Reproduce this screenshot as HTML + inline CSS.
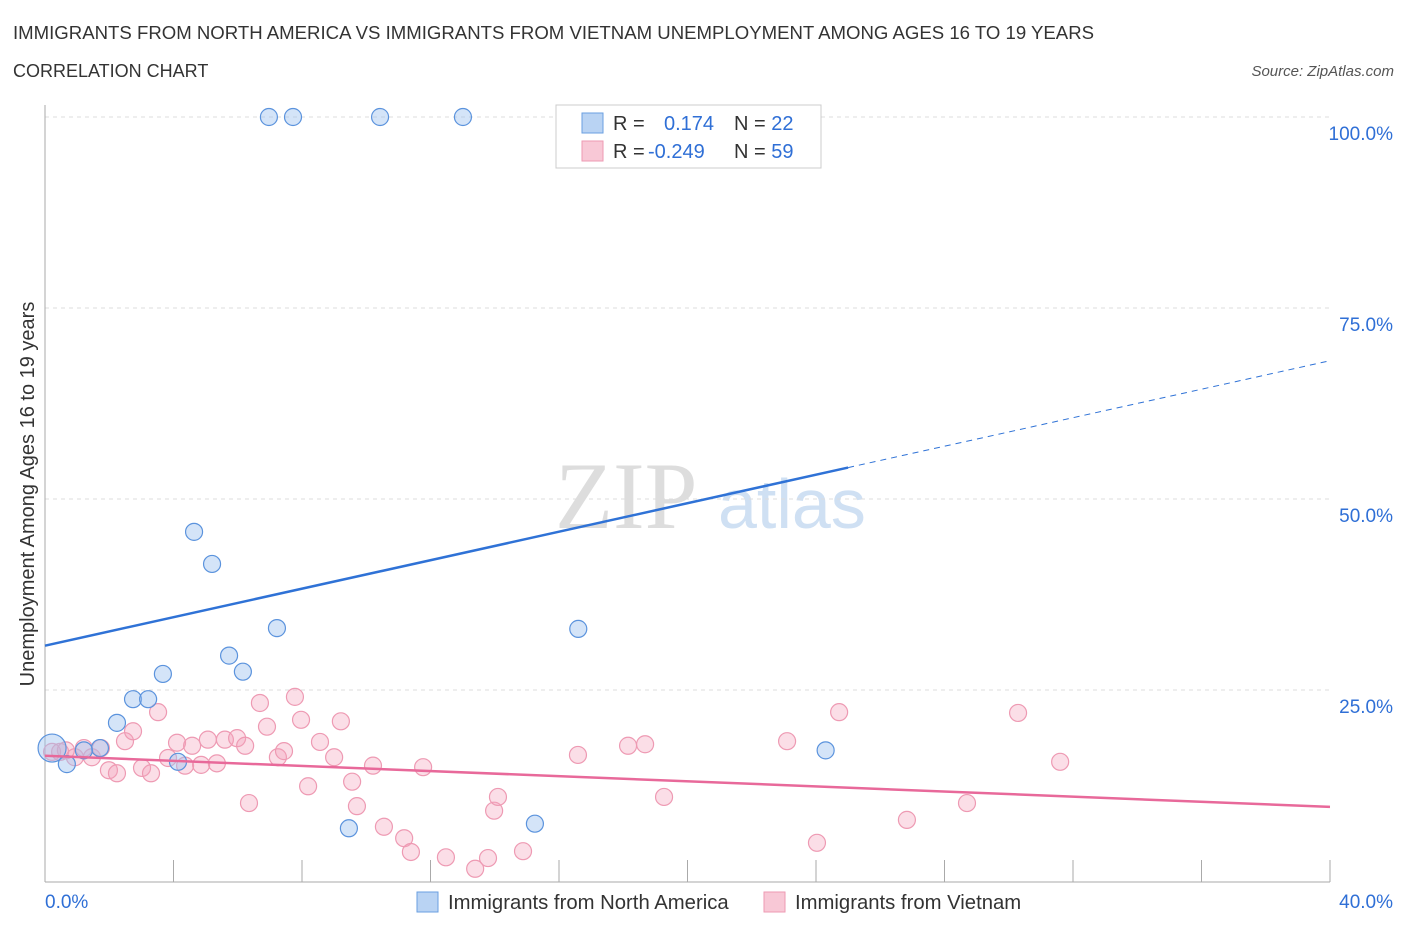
<!DOCTYPE html>
<html><head><meta charset="utf-8"><style>
body{margin:0;background:#fff;font-family:"Liberation Sans",sans-serif}
svg{display:block}
</style></head><body>
<svg id="c" width="1406" height="930">
<text x="13" y="39" font-size="18.6" fill="#333">IMMIGRANTS FROM NORTH AMERICA VS IMMIGRANTS FROM VIETNAM UNEMPLOYMENT AMONG AGES 16 TO 19 YEARS</text>
<text x="13" y="77" font-size="18" fill="#333">CORRELATION CHART</text>
<text x="1394" y="76" font-size="15" fill="#555" font-style="italic" text-anchor="end">Source: ZipAtlas.com</text>
<text x="555" y="528" font-size="95" fill="#ddd" font-family="Liberation Serif,serif">ZIP</text>
<text x="718" y="528" font-size="70" fill="#cfe0f3">atlas</text>
<text transform="translate(34,494) rotate(-90)" font-size="20" fill="#333" text-anchor="middle">Unemployment Among Ages 16 to 19 years</text>
<g id="grid"></g><g id="marks"></g>
<g>
<rect x="556" y="105" width="265" height="63" fill="#fff" stroke="#ccc"/>
<rect x="582" y="113" width="21" height="20" fill="#b9d3f3" stroke="#6a9fe0"/>
<rect x="582" y="141" width="21" height="20" fill="#f8c8d6" stroke="#ee9ab3"/>
<text x="613" y="130" font-size="20" fill="#333">R =  <tspan fill="#2f6fd6" x="664">0.174</tspan><tspan fill="#333" x="734">N = </tspan><tspan fill="#2f6fd6">22</tspan></text>
<text x="613" y="158" font-size="20" fill="#333">R = <tspan fill="#2f6fd6" x="648">-0.249</tspan><tspan fill="#333" x="734">N = </tspan><tspan fill="#2f6fd6">59</tspan></text>
</g>
<g>
<rect x="417" y="892" width="21" height="20" fill="#b9d3f3" stroke="#6a9fe0"/>
<text x="448" y="909" font-size="20.3" fill="#333">Immigrants from North America</text>
<rect x="764" y="892" width="21" height="20" fill="#f8c8d6" stroke="#ee9ab3"/>
<text x="795" y="909" font-size="20.3" fill="#333">Immigrants from Vietnam</text>
</g>
</svg>
<script>
const blueX=[6.97,7.72,10.43,13.01,4.64,5.2,7.22,16.6,5.73,6.16,3.67,2.74,3.21,2.24,1.71,1.21,0.22,0.68,4.14,9.46,15.25,24.3];
const blueY=[100,100,100,100,45.7,41.5,33.1,33.0,29.5,27.4,27.1,23.8,23.8,20.7,17.4,17.1,17.4,15.3,15.6,6.9,7.5,17.1];
const pinkPx=[[52,752],[60,752],[75,757],[84,748],[92,757],[101,748],[109,770],[117,773],[125,741],[133,731],[142,768],[151,773],[158,712],[168,758],[177,743],[185,766],[192,746],[201,765],[208,740],[217,763],[225,740],[237,738],[245,746],[249,803],[260,703],[267,727],[278,757],[284,751],[295,697],[301,720],[308,786],[320,742],[334,757],[341,721],[352,782],[357,806],[373,766],[384,827],[404,838],[411,852],[423,767],[446,857],[475,869],[488,858],[494,811],[498,797],[523,851],[578,755],[628,746],[645,744],[664,797],[787,741],[817,843],[839,712],[907,820],[967,803],[1018,713],[1060,762],[66,750]];
const pinkX=pinkPx.map(p=>+((p[0]-45)/32.125).toFixed(2));
const pinkY=pinkPx.map(p=>+((881-p[1])/7.64).toFixed(1));
const yTicks=[25,50,75,100];
const yTickLabels=["25.0%","50.0%","75.0%","100.0%"];
const blueLine=[30.8,68.1];
const pinkLine=[16.4,9.7];
const X=v=>45+v*32.125, Y=v=>881-v*7.64;
const NS="http://www.w3.org/2000/svg";
function mk(t,a,p){const e=document.createElementNS(NS,t);for(const k in a)e.setAttribute(k,a[k]);p.appendChild(e);return e;}
const g=document.getElementById('grid'),m=document.getElementById('marks');
yTicks.forEach((v,i)=>{
 const l=mk('line',{x1:45,x2:1330,y1:Y(v),y2:Y(v),stroke:'#ddd','stroke-dasharray':'4,4'},g);
 
 
 const t=mk('text',{x:1393,y:Y(v)+23,'font-size':19,fill:'#2f6fd6','text-anchor':'end'},g);t.textContent=yTickLabels[i];
 
 
});
mk('line',{x1:45,x2:45,y1:105,y2:882,stroke:'#aaa'},g);
mk('line',{x1:45,x2:1330,y1:882,y2:882,stroke:'#aaa'},g);
for(let i=0;i<=10;i++){mk('line',{x1:X(i*4),x2:X(i*4),y1:860,y2:882,stroke:'#aaa'},g);}
let t0=mk('text',{x:45,y:908,'font-size':19,fill:'#2f6fd6'},g);t0.textContent='0.0%';


let t1=mk('text',{x:1393,y:908,'font-size':19,fill:'#2f6fd6','text-anchor':'end'},g);t1.textContent='40.0%';


pinkX.forEach((x,i)=>{const c=mk('circle',{cx:X(x),cy:Y(pinkY[i]),r:8.5,fill:'rgba(244,160,187,0.35)',stroke:'#ee9ab3','stroke-width':1.2},m);
 
 });
blueX.forEach((x,i)=>{const c=mk('circle',{cx:X(x),cy:Y(blueY[i]),r:i==16?14:8.5,fill:'rgba(160,196,240,0.45)',stroke:'#5b93dd','stroke-width':1.2},m);
 
 });
const xs=25;const yb=v=>blueLine[0]+(blueLine[1]-blueLine[0])*v/40;
let bl=mk('line',{x1:X(0),y1:Y(yb(0)),x2:X(xs),y2:Y(yb(xs)),stroke:'#2f72d6','stroke-width':2.5},m);


let bd=mk('line',{x1:X(xs),y1:Y(yb(xs)),x2:X(40),y2:Y(yb(40)),stroke:'#2f72d6','stroke-width':1,'stroke-dasharray':'6,5'},m);


let pl=mk('line',{x1:X(0),y1:Y(pinkLine[0]),x2:X(40),y2:Y(pinkLine[1]),stroke:'#e8699a','stroke-width':2.5},m);


</script>
</body></html>
